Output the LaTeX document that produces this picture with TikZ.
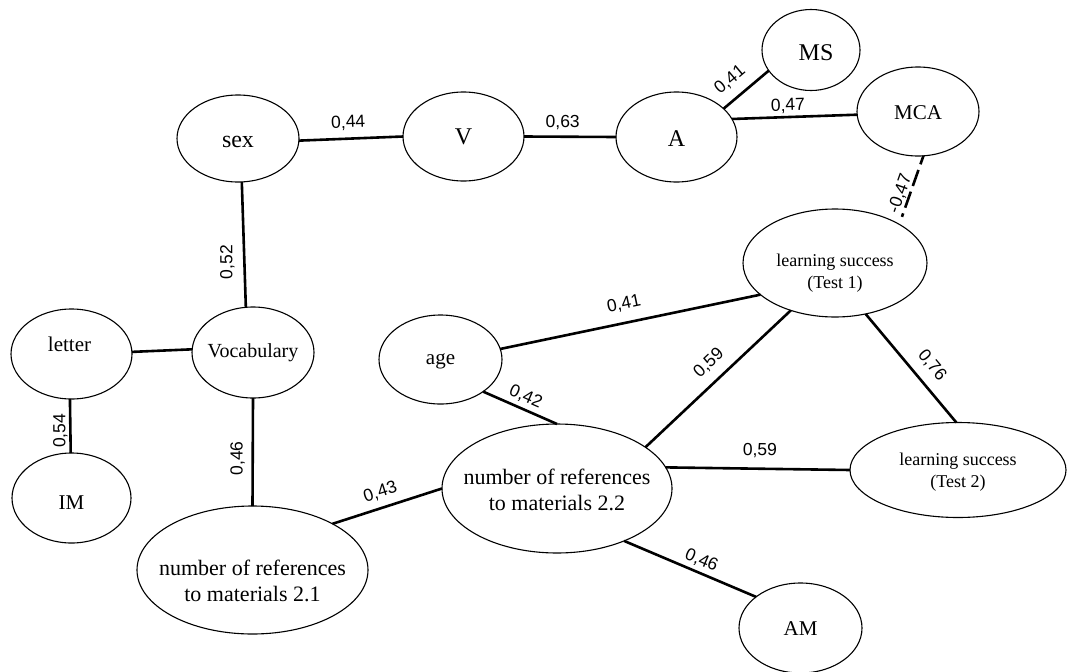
\documentclass[tikz,border=0pt]{standalone}
\usepackage{fontspec}
\setmainfont{Liberation Serif}
\newfontfamily\corrfont{Liberation Sans}
\usetikzlibrary{shapes.geometric}

\tikzset{
  var/.style 2 args={ellipse, draw, line width=1.1pt, minimum width=#1pt,
    minimum height=#2pt, inner sep=0pt, outer sep=0pt},
  nm/.style={inner sep=0pt, align=center, font=\fontsize{21}{25}\selectfont},
  nmbig/.style={nm, font=\fontsize{24}{28}\selectfont},
  nmref/.style={nm, font=\fontsize{22}{26}\selectfont},
  nmls/.style={nm, font=\fontsize{18}{22}\selectfont},
  link/.style={line width=2.6pt},
  neglink/.style={link, dash pattern=on 17pt off 6pt, dash phase=8pt},
  corr/.style={font=\corrfont\fontsize{17.5}{20}\selectfont, inner sep=0pt,
    text height=12.5pt, text depth=0pt},
}

\begin{document}
\begin{tikzpicture}[x=1pt, y=-1pt]
\useasboundingbox (0,0) rectangle (1071,672);

% variables
\node[var={122}{87}, label={[nmbig, yshift=-3.5pt]center:sex}] (sex) at (238,138.5) {};
\node[var={121}{89}, label={[nmbig]center:V}] (V) at (463.5,136.5) {};
\node[var={121}{90}, label={[nmbig, yshift=-2pt]center:A}] (A) at (676.5,137) {};
\node[var={98}{81}, label={[nmbig, xshift=5pt, yshift=-3pt]center:MS}] (MS) at (811,50) {};
\node[var={122}{89}, label={[nm, yshift=-1.5pt]center:MCA}] (MCA) at (918,111.5) {};
\node[var={121}{90}, label={[nm, xshift=-2pt, yshift=10pt]center:letter}] (letter) at (71.5,354) {};
\node[var={122}{91}, label={[nm, font=\fontsize{20}{24}\selectfont]center:Vocabulary}] (voc) at (253,352.5) {};
\node[var={119}{90}, label={[nm, yshift=-4.5pt]center:IM}] (IM) at (71.5,498) {};
\node[var={123}{89}, label={[nm, yshift=-2pt]center:age}] (age) at (440.5,359.5) {};
\node[var={184}{108}, label={[nmls, yshift=-10pt]center:learning success\\(Test 1)}] (T1) at (835,263) {};
\node[var={231}{128}, label={[nmref, yshift=-10.8pt]center:number of references\\to materials 2.1}] (n21) at (252.5,570) {};
\node[var={230}{129}, label={[nmref, yshift=-1.5pt]center:number of references\\to materials 2.2}] (n22) at (557,488.5) {};
\node[var={216}{95}, label={[nmls, yshift=-2pt]center:learning success\\(Test 2)}] (T2) at (958,470) {};
\node[var={123}{90}, label={[nm, yshift=-1pt]center:AM}] (AM) at (800.5,628) {};

% correlations
\draw[link] (sex.-2) -- node[corr, sloped, pos=.48, above=9.6pt] {0,44} (V.180);
\draw[link] (V.0) -- node[corr, sloped, pos=.42, above=8pt] {0,63} (A.180);
\draw[link] (A.31) -- node[corr, sloped, pos=.40, above=11.8pt] {0,41} (MS.206);
\draw[link] (A.18) -- node[corr, sloped, pos=.45, above=5pt] {0,47} (MCA.183);
\draw[neglink, shorten >=8pt] (MCA.-83) -- node[corr, sloped, pos=.60, above=3pt] {-0,47} (T1.31);
\draw[link] (voc.99) -- node[corr, rotate=90, pos=.36, above=10.6pt] {0,52} (sex.-85);
\draw[link] (letter.2) -- (voc.177);
\draw[link] (IM.91) -- node[corr, rotate=90, pos=.41, above=3.7pt] {0,54} (letter.-92);
\draw[link] (n21.90) -- node[corr, rotate=90, pos=.44, above=8.7pt] {0,46} (voc.-90);
\draw[link] (n21.30) -- node[corr, sloped, pos=.48, above=9pt] {0,43} (n22.180);
\draw[link] (age.-37) -- node[corr, sloped, pos=.51, above=6pt] {0,42} (n22.90);
\draw[link] (age.10) -- node[corr, sloped, pos=.49, above=12.5pt] {0,41} (T1.203);
\draw[link] (n22.25) -- node[corr, sloped, pos=.52, above=11.5pt] {0,59} (T1.227);
\draw[link] (T1.-59) -- node[corr, sloped, pos=.58, above=11.8pt] {0,76} (T2.92);
\draw[link] (n22.11) -- node[corr, sloped, pos=.51, above=12pt] {0,59} (T2.180);
\draw[link] (n22.-38) -- node[corr, sloped, pos=.55, above=6pt] {0,46} (AM.145);
\end{tikzpicture}
\end{document}
